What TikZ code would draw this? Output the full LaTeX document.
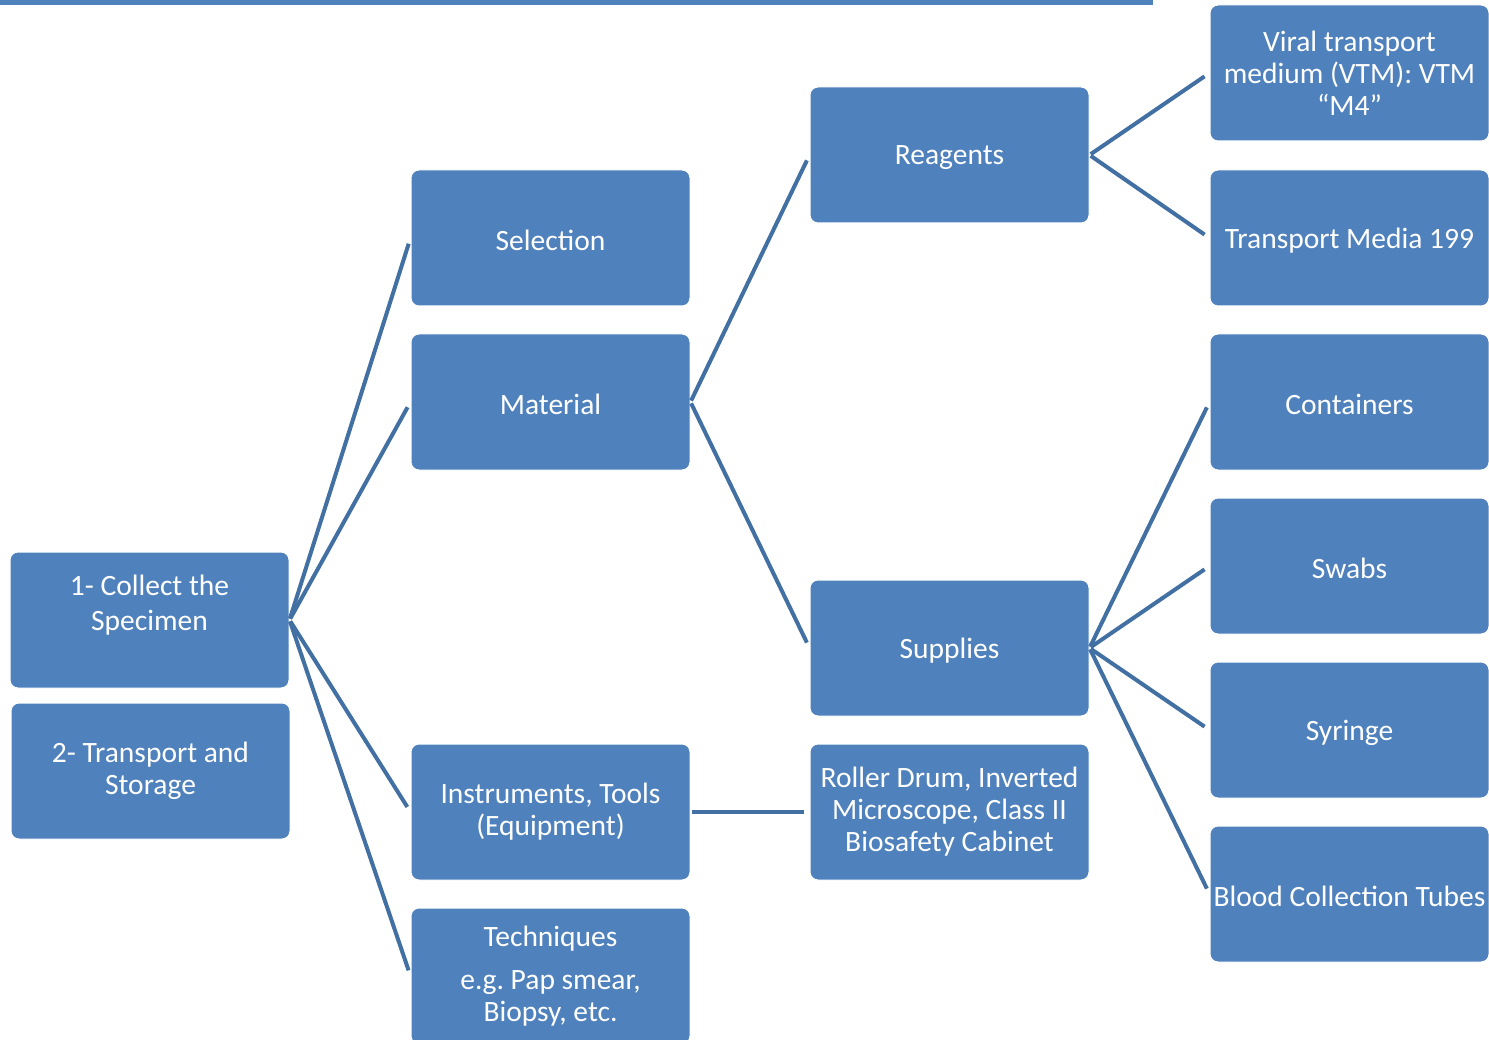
\documentclass[tikz,border=0pt]{standalone}
\usepackage{fontspec}
\setmainfont{Carlito}
\frenchspacing
\definecolor{boxblue}{RGB}{79,129,189}
\definecolor{lineblue}{RGB}{66,112,163}
\newcommand{\lowr}[1]{\raisebox{-2.5pt}[\height][\depth]{#1}}
\begin{document}
\begin{tikzpicture}[x=1pt,y=-1pt,
  box/.style={rectangle, fill=boxblue, draw=white, line width=1pt, rounded corners=8pt,
    minimum width=279pt, minimum height=136pt, inner sep=0pt, text=white, align=center,
    font=\fontsize{29.5}{32}\selectfont},
  conn/.style={draw=lineblue, line width=4pt, shorten >=6pt, shorten <=1.5pt}]
\useasboundingbox (0,0) rectangle (1489,1040);
\fill[boxblue] (0,-10) rectangle (1153,5);
% boxes
\node[box, font=\fontsize{29.5}{35}\selectfont] (col) at (149.5,620) {1- Collect the\\Specimen\\\mbox{}};
\node[box] (trn) at (150.5,771) {2- Transport and\\Storage};
\node[box] (sel) at (550.5,238) {\lowr{Selection}};
\node[box] (mat) at (550.5,402) {\lowr{Material}};
\node[box] (ins) at (550.5,812) {Instruments, Tools\\(Equipment)};
\node[box] (tec) at (550.5,976) {Techniques\\[11pt]e.g.\ Pap smear,\\Biopsy, etc.};
\node[box] (rea) at (949.5,155) {\lowr{Reagents}};
\node[box] (sup) at (949.5,648) {\lowr{Supplies}};
\node[box] (rol) at (949.5,812) {Roller Drum, Inverted\\Microscope, Class II\\Biosafety Cabinet};
\node[box] (vir) at (1349.5,73) {Viral transport\\medium (VTM): VTM\\``M4''};
\node[box] (tm) at (1349.5,238) {\lowr{Transport Media 199}};
\node[box] (con) at (1349.5,402) {\lowr{Containers}};
\node[box] (swa) at (1349.5,566) {\lowr{Swabs}};
\node[box] (syr) at (1349.5,730) {\lowr{Syringe}};
\node[box] (blo) at (1349.5,894) {\lowr{Blood Collection Tubes}};
% connectors
\draw[conn] (col.east) -- (sel.west);
\draw[conn] (col.east) -- (mat.west);
\draw[conn] (col.east) -- (ins.west);
\draw[conn] (col.east) -- (tec.west);
\draw[conn] (mat.east) -- (rea.west);
\draw[conn] (mat.east) -- (sup.west);
\draw[conn] (ins.east) -- (rol.west);
\draw[conn] (rea.east) -- (vir.west);
\draw[conn] (rea.east) -- (tm.west);
\draw[conn] (sup.east) -- (con.west);
\draw[conn] (sup.east) -- (swa.west);
\draw[conn] (sup.east) -- (syr.west);
\draw[conn] (sup.east) -- (blo.west);
\end{tikzpicture}
\end{document}
